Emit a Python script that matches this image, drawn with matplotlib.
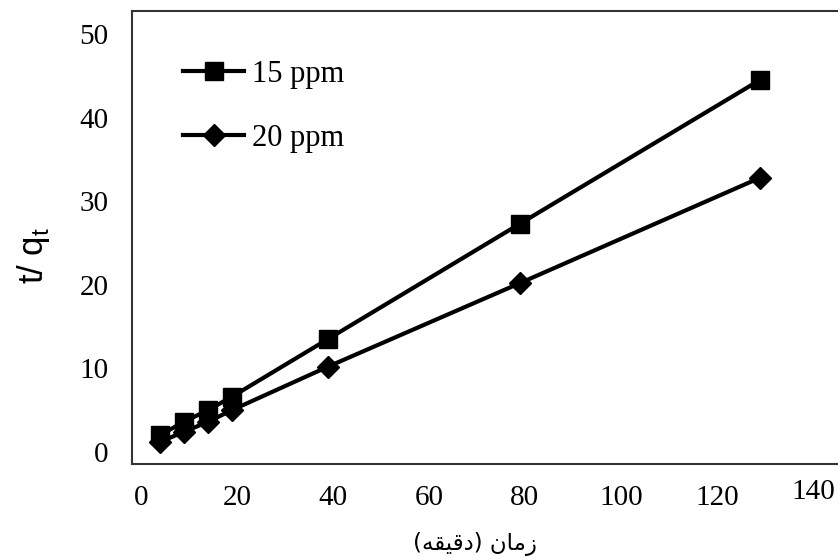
import matplotlib.pyplot as plt
from matplotlib.transforms import ScaledTranslation

# time in minutes
time = [5, 10, 15, 20, 40, 80, 130]
ppm15 = [2.0, 3.6, 5.0, 6.6, 13.5, 27.3, 44.5]
ppm20 = [1.2, 2.4, 3.6, 5.0, 10.2, 20.2, 32.8]

x_ticks = [0, 20, 40, 60, 80, 100, 120, 140]
y_ticks = [0, 10, 20, 30, 40, 50]

# Persian label "زمان (دقیقه)" written in shaped presentation forms, visual order
xlabel = "(" + "\uFEEA\uFED8\uFEF4\uFED7\uFEA9" + ")" + " " + "\uFEE5\uFE8E\uFEE3\uFEAF"

fig = plt.figure(figsize=(8.38, 5.6), dpi=100)
ax = fig.add_axes([0.1575, 0.1714, 0.864, 0.809])

ax.plot(time, ppm15, color='black', lw=3, marker='s', ms=13, label='15 ppm')
ax.plot(time, ppm20, color='black', lw=3, marker='D', ms=11.5, label='20 ppm')

ax.set_xlim(-0.8, 150)
ax.set_ylim(-1.44, 52.75)
ax.set_xticks(x_ticks)
ax.set_yticks(y_ticks)
ax.tick_params(length=0, labelsize=21)
ax.tick_params(axis='x', pad=15)
ax.tick_params(axis='y', pad=17)
for lab in ax.get_xticklabels() + ax.get_yticklabels():
    lab.set_fontfamily('Liberation Serif')
# excel labels sit a few px right of the data positions
for lab in ax.get_xticklabels():
    lab.set_transform(lab.get_transform() + ScaledTranslation(5 / 100, 0, fig.dpi_scale_trans))
last = ax.get_xticklabels()[-1]
last.set_transform(last.get_transform() + ScaledTranslation(0, 6 / 100, fig.dpi_scale_trans))

for sp in ax.spines.values():
    sp.set_linewidth(1.5)
    sp.set_color('#333333')

ax.set_ylabel('t/ q$_\\mathregular{t}$', fontsize=25, family='Liberation Sans')
ax.yaxis.set_label_coords(-0.11, 0.46)
ax.set_xlabel(xlabel, fontsize=16.5, family='DejaVu Sans')
ax.xaxis.set_label_coords(0.473, -0.15)

leg = ax.legend(loc='upper left', bbox_to_anchor=(183 / 838, 1 - 60 / 560),
                bbox_transform=fig.transFigure, frameon=False, borderpad=0,
                borderaxespad=0, handlelength=2.0, handletextpad=0.25,
                labelspacing=1.15, prop={'family': 'Liberation Serif', 'size': 22})

fig.savefig('out.png', dpi=100)
